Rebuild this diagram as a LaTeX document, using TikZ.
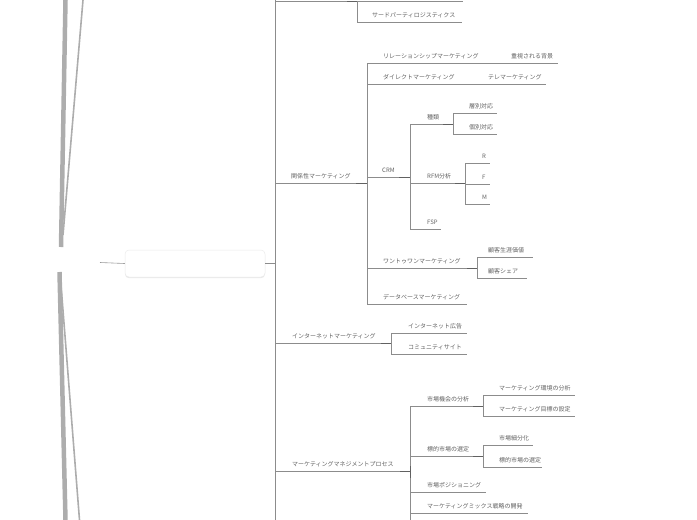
\documentclass[tikz,border=0pt]{standalone}
\usepackage{fontspec}
\newfontfamily\jp{Noto Sans CJK JP}
\usetikzlibrary{shadows}
\tikzset{
  lbl/.style={font=\jp\fontsize{6}{7}\selectfont, text=black!62, anchor=west, inner sep=0pt},
  ln/.style={draw=black!45, line width=0.7pt},
  dk/.style={draw=black!62, line width=0.95pt},
  wedge/.style={draw=black!32, line cap=butt},
  rootbox/.style={draw=black!8, fill=white, rounded corners=4pt, line width=0.5pt,
    drop shadow={opacity=0.18, shadow xshift=0pt, shadow yshift=-1.2pt}}
}
\newcommand\mmbr[6]{%
  \node[lbl] (#1) at (#5,#4-6.5) {#6};
  \draw[ln] (#2,#4) -- (#3,#4);
}
\begin{document}
\begin{tikzpicture}[x=1pt,y=-1pt]
\useasboundingbox (0,0) rectangle (697,520);
% left wedges
\draw[wedge, line width=4.5pt] (65.5,0) -- (61,247);
\draw[wedge, line width=1.6pt] (83,0) -- (63,235);
\draw[wedge, line width=4.5pt] (59.5,272) -- (65.5,520);
\draw[wedge, line width=1.6pt] (61,285) -- (79.5,520);
% root
\node[rootbox, minimum width=140pt, minimum height=27pt] (root) at (195,263.5) {};
\coordinate (lin) at (100,262.5);
\draw[draw=black!40, line width=0.6pt] (lin) -- (root.west);
\coordinate (j1) at (275,263.5);
\draw[ln] (root.east) -- (j1);
% main vertical
\draw[ln] (275,0) -- (275,520);
% top branch
\draw[ln] (275,1) -- (463,1);
\draw[dk] (347,1) -- (357,1);
\draw[ln] (357,1) -- (357,22);
\mmbr{tpl}{357}{462}{22}{372}{サードパーティロジスティクス}
% relationship marketing
\mmbr{kankei}{275}{367}{183}{291}{関係性マーケティング}
\draw[dk] (356,183) -- (367,183);
\draw[ln] (367,63) -- (367,304);
\mmbr{rel}{367}{500}{63}{383}{リレーションシップマーケティング}
\mmbr{juushi}{500}{558}{63}{511}{重視される背景}
\mmbr{direct}{367}{476}{84}{383}{ダイレクトマーケティング}
\mmbr{tele}{476}{546}{84}{488}{テレマーケティング}
\mmbr{crm}{367}{410}{177}{382}{CRM}
\draw[dk] (399,177) -- (410,177);
\draw[ln] (410,124) -- (410,229);
\mmbr{shurui}{410}{453}{124}{427}{種類}
\draw[dk] (443,124) -- (453,124);
\draw[ln] (453,113) -- (453,134);
\mmbr{soubetsu}{453}{497}{113}{469}{層別対応}
\mmbr{kobetsu}{453}{497}{134}{469}{個別対応}
\mmbr{rfm}{410}{465}{183}{427}{RFM分析}
\draw[dk] (455,183) -- (465,183);
\draw[ln] (465,163) -- (465,204);
\mmbr{r}{465}{490}{163}{482}{R}
\mmbr{f}{465}{490}{184}{482}{F}
\mmbr{m}{465}{490}{204}{482}{M}
\mmbr{fsp}{410}{441}{229}{427}{FSP}
\mmbr{one}{367}{477}{268}{383}{ワントゥワンマーケティング}
\draw[dk] (467,268) -- (477,268);
\draw[ln] (477,257) -- (477,278);
\mmbr{ltv}{477}{533}{257}{488}{顧客生涯価値}
\mmbr{share}{477}{527}{278}{488}{顧客シェア}
\mmbr{db}{367}{467}{304}{383}{データベースマーケティング}
% internet marketing
\mmbr{inet}{275}{391}{343}{292}{インターネットマーケティング}
\draw[dk] (381,343) -- (391,343);
\draw[ln] (391,333) -- (391,354);
\mmbr{ad}{391}{467}{333}{408}{インターネット広告}
\mmbr{comm}{391}{467}{354}{408}{コミュニティサイト}
% management process
\mmbr{mmp}{275}{410}{471}{292}{マーケティングマネジメントプロセス}
\draw[dk] (400,471) -- (410,471);
\draw[ln] (410,406) -- (410,520);
\draw[dk] (410,466) -- (410,478);
\mmbr{kikai}{410}{483}{406}{427}{市場機会の分析}
\draw[dk] (473,406) -- (483,406);
\draw[ln] (483,395) -- (483,416);
\mmbr{kankyo}{483}{575}{395}{499}{マーケティング環境の分析}
\mmbr{mokuhyo}{483}{575}{416}{499}{マーケティング目標の設定}
\mmbr{hyoteki}{410}{483}{456}{427}{標的市場の選定}
\draw[dk] (473,456) -- (483,456);
\draw[ln] (483,445) -- (483,467);
\mmbr{saibun}{483}{533}{445}{499}{市場細分化}
\mmbr{hyoteki2}{483}{542}{467}{499}{標的市場の選定}
\mmbr{pos}{410}{486}{492}{427}{市場ポジショニング}
\mmbr{mix}{410}{528}{513}{427}{マーケティングミックス戦略の開発}
\end{tikzpicture}
\end{document}
